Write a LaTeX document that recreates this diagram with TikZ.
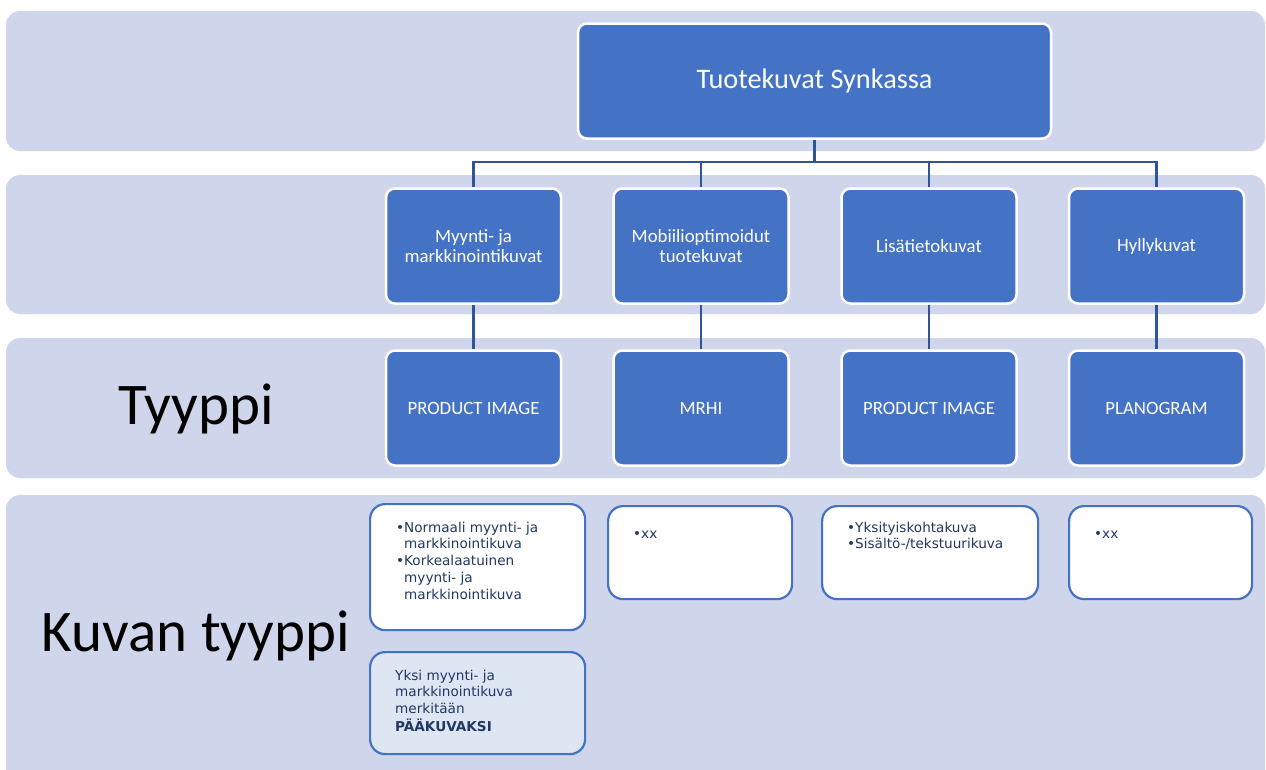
\documentclass[tikz,border=0pt]{standalone}
\usepackage{fontspec}
\setmainfont{Carlito}
\newfontfamily\smallfont{DejaVu Sans}
\definecolor{bandcol}{HTML}{CFD5EA}
\definecolor{boxblue}{HTML}{4472C4}
\definecolor{conncol}{HTML}{2F5597}
\definecolor{navy}{HTML}{203864}
\definecolor{pale}{HTML}{DEE6F3}
\tikzset{
  band/.style={fill=bandcol, rounded corners=14pt},
  bluebox/.style={draw=white, line width=2.5pt, fill=boxblue, rounded corners=9pt,
    text=white, align=center, minimum width=175pt, minimum height=115pt, inner sep=2pt,
    font=\fontsize{18.8}{19.5}\selectfont},
  topbox/.style={bluebox, minimum width=473pt, minimum height=115pt,
    font=\fontsize{28.3}{30}\selectfont},
  detbox/.style={draw=boxblue, line width=2.2pt, fill=white, rounded corners=15pt,
    anchor=north west, inner sep=0pt},
  dettext/.style={anchor=base west, inner sep=0pt, text=navy, align=left,
    font=\smallfont\fontsize{13.6}{16.8}\selectfont},
  conn/.style={draw=conncol, line width=2.5pt},
  biglabel/.style={font=\fontsize{59}{64}\selectfont, text=black}
}
\newcommand{\bul}{\textbullet}
\begin{document}
\begin{tikzpicture}[x=1pt,y=-1pt]
\useasboundingbox (0,0) rectangle (1266,769);
\fill[white] (0,0) rectangle (1266,769);
% bands
\fill[band] (6,11) rectangle (1265,151);
\fill[band] (6,175) rectangle (1265,314);
\fill[band] (6,338) rectangle (1265,478);
\fill[band] (6,495) rectangle (1265,790);
% row labels
\node[biglabel] (tyyppi) at (196,409) {Tyyppi};
\node[biglabel] (kuvantyyppi) at (196,636) {Kuvan tyyppi};
% top
\node[topbox] (top) at (814.5,81) {Tuotekuvat Synkassa};
% level 2
\node[bluebox] (c1) at (473.5,246) {Myynti- ja\\markkinointikuvat};
\node[bluebox, yshift=0pt] (c2) at (701,246) {Mobiilioptimoidut\\tuotekuvat};
\node[bluebox] (c3) at (929,246) {Lisätietokuvat};
\node[bluebox] (c4) at (1156.5,246) {Hyllykuvat};
% level 3
\node[bluebox] (t1) at (473.5,408) {PRODUCT IMAGE};
\node[bluebox] (t2) at (701,408) {MRHI};
\node[bluebox] (t3) at (929,408) {PRODUCT IMAGE};
\node[bluebox] (t4) at (1156.5,408) {PLANOGRAM};
% connectors
\coordinate (bus) at (814.5,162);
\draw[conn] (top.south) -- (bus);
\draw[conn] (bus) -| (c1.north);
\draw[conn] (bus) -| (c2.north);
\draw[conn] (bus) -| (c3.north);
\draw[conn] (bus) -| (c4.north);
\draw[conn] (c1.south) -- (t1.north);
\draw[conn] (c2.south) -- (t2.north);
\draw[conn] (c3.south) -- (t3.north);
\draw[conn] (c4.south) -- (t4.north);
% level 4 boxes
\node[detbox, minimum width=215pt, minimum height=126pt] (d1) at (369,503) {};
\node[detbox, fill=pale, minimum width=215pt, minimum height=102pt] (d1b) at (369,651) {};
\node[detbox, minimum width=184pt, minimum height=93pt] (d2) at (607,505) {};
\node[detbox, minimum width=216pt, minimum height=93pt] (d3) at (821,505) {};
\node[detbox, minimum width=183pt, minimum height=93pt] (d4) at (1068,505) {};
% texts
\node[dettext] (d1t) at ([shift={(27,29)}]d1.north west)
  {\begin{tabular}[t]{@{}l@{}l@{}}\bul&Normaali myynti- ja\\&markkinointikuva\\\bul&Korkealaatuinen\\&myynti- ja\\&markkinointikuva\end{tabular}};
\node[dettext] (d1bt) at ([shift={(26,29)}]d1b.north west)
  {\begin{tabular}[t]{@{}l@{}}Yksi myynti- ja\\markkinointikuva\\merkitään\\\textbf{PÄÄKUVAKSI}\end{tabular}};
\node[dettext] (d2t) at ([shift={(26,33)}]d2.north west) {\bul xx};
\node[dettext] (d3t) at ([shift={(26,27)}]d3.north west)
  {\begin{tabular}[t]{@{}l@{}}\bul Yksityiskohtakuva\\\bul Sisältö-/tekstuurikuva\end{tabular}};
\node[dettext] (d4t) at ([shift={(26,33)}]d4.north west) {\bul xx};
\end{tikzpicture}
\end{document}
